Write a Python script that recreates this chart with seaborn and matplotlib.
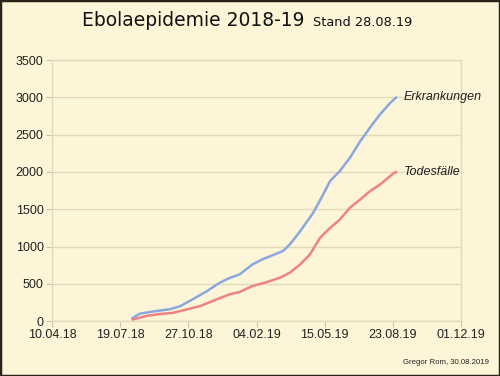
import pandas as pd
import matplotlib.pyplot as plt
import matplotlib.dates as mdates
import seaborn as sns

# cumulative cases
case_dates = ['2018-08-06', '2018-08-17', '2018-08-27', '2018-09-10', '2018-09-30',
              '2018-10-15', '2018-11-03', '2018-11-23', '2018-12-12', '2018-12-27',
              '2019-01-10', '2019-01-29', '2019-02-13', '2019-03-15', '2019-03-25',
              '2019-04-09', '2019-04-28', '2019-05-10', '2019-05-23', '2019-06-06',
              '2019-06-21', '2019-07-06', '2019-07-20', '2019-08-04', '2019-08-19',
              '2019-08-28']
cases = [40, 100, 115, 135, 160, 200, 295, 400, 515, 580,
         625, 760, 830, 940, 1030, 1205, 1450, 1650, 1880, 2010,
         2190, 2410, 2590, 2770, 2925, 3000]

# cumulative deaths
death_dates = ['2018-08-06', '2018-08-27', '2018-09-15', '2018-10-04', '2018-10-24',
               '2018-11-13', '2018-12-07', '2018-12-27', '2019-01-10', '2019-01-29',
               '2019-02-18', '2019-03-10', '2019-03-25', '2019-04-09', '2019-04-23',
               '2019-05-08', '2019-05-23', '2019-06-06', '2019-06-21', '2019-07-06',
               '2019-07-20', '2019-08-04', '2019-08-25', '2019-08-28']
deaths = [20, 70, 95, 110, 155, 200, 290, 360, 390, 470,
          520, 580, 650, 760, 890, 1115, 1250, 1360, 1520, 1630,
          1740, 1830, 1990, 2000]

x_ticks = ['2018-04-10', '2018-07-19', '2018-10-27', '2019-02-04',
           '2019-05-15', '2019-08-23', '2019-12-01']

bg = '#fdf5d8'
grid_c = '#e2dabb'
sns.set_theme(style='white', rc={'axes.facecolor': bg, 'figure.facecolor': bg})
plt.rcParams['font.family'] = ['Liberation Sans', 'DejaVu Sans']

df_c = pd.DataFrame({'date': pd.to_datetime(case_dates), 'n': cases})
df_d = pd.DataFrame({'date': pd.to_datetime(death_dates), 'n': deaths})

fig = plt.figure(figsize=(5, 3.76), dpi=100)
ax = fig.add_axes([0.104, 0.146, 0.818, 0.694])

sns.lineplot(data=df_c, x='date', y='n', ax=ax, color='#8aa7df', linewidth=1.8)
sns.lineplot(data=df_d, x='date', y='n', ax=ax, color='#f08282', linewidth=1.8)

ticks = pd.to_datetime(x_ticks)
ax.set_xlim(ticks[0], ticks[-1])
ax.set_xticks(ticks)
ax.xaxis.set_major_formatter(mdates.DateFormatter('%d.%m.%y'))
ax.set_ylim(0, 3500)
ax.set_yticks(range(0, 3501, 500))
ax.set_xlabel('')
ax.set_ylabel('')
ax.yaxis.grid(True, color=grid_c, linewidth=1)
ax.set_axisbelow(True)
for s in ax.spines.values():
    s.set_color(grid_c)
    s.set_linewidth(1)
ax.tick_params(axis='both', which='major', length=4, width=0.8, color='#c8c4b4',
               labelsize=9, labelcolor='#222222', pad=2, bottom=True, left=True)

# series labels just right of the line ends
label_x = pd.Timestamp('2019-09-08')
ax.text(label_x, 3000, 'Erkrankungen', fontsize=9, style='italic',
        va='center', ha='left', color='#222222', clip_on=False)
ax.text(label_x, 2000, 'Todesfälle', fontsize=9, style='italic',
        va='center', ha='left', color='#222222', clip_on=False)

fig.text(0.164, 0.945, 'Ebolaepidemie 2018-19', fontsize=13.5, family='DejaVu Sans',
         ha='left', va='center', color='#111111')
fig.text(0.626, 0.941, 'Stand 28.08.19', fontsize=9.3, family='DejaVu Sans',
         ha='left', va='center', color='#111111')
fig.text(0.978, 0.037, 'Gregor Rom, 30.08.2019', fontsize=5.6, ha='right',
         va='center', color='#222222')

# dark frame round the picture
fig.patches.append(plt.Rectangle((0, 0), 1, 1, transform=fig.transFigure,
                                 fill=False, edgecolor='#2a2418', linewidth=2.5))

fig.savefig('out.png', dpi=100, facecolor=bg)
